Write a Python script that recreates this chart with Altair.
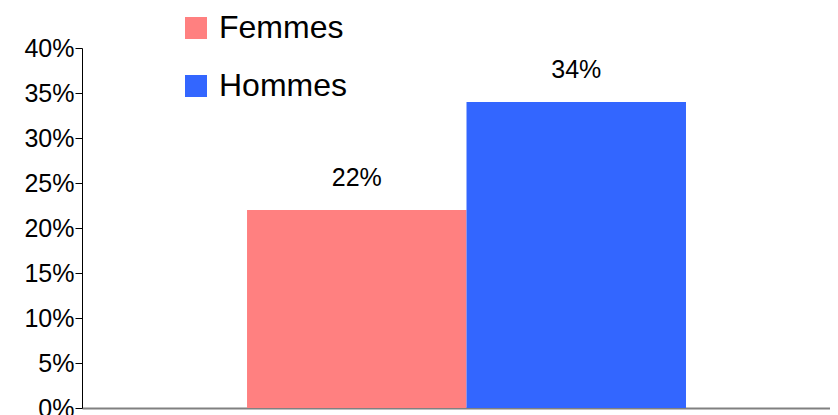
import altair as alt
import pandas as pd

categories = ["Femmes", "Hommes"]
values = [0.22, 0.34]
labels = ["22%", "34%"]
colors = ["#FF8080", "#3366FF"]

df = pd.DataFrame({"sexe": categories, "part": values, "label": labels})

FONT = "Liberation Sans, Arial, sans-serif"

x_enc = alt.X(
    "sexe:N",
    sort=categories,
    scale=alt.Scale(paddingInner=0, paddingOuter=0.704, align=0.534),
    axis=alt.Axis(labels=False, ticks=False, title=None, domainColor="#808080", domainWidth=2),
)
y_enc = alt.Y(
    "part:Q",
    scale=alt.Scale(domain=[0, 0.4], nice=False),
    axis=alt.Axis(
        format=".0%",
        values=[0, 0.05, 0.1, 0.15, 0.2, 0.25, 0.3, 0.35, 0.4],
        grid=False,
        title=None,
        labelFontSize=25,
        labelFont=FONT,
        labelColor="black",
        tickColor="black",
        tickSize=7,
        labelPadding=1,
        domainColor="black",
        domainWidth=1,
    ),
)

bars = alt.Chart(df).mark_bar(opacity=1).encode(
    x=x_enc,
    y=y_enc,
    color=alt.Color(
        "sexe:N",
        sort=categories,
        scale=alt.Scale(domain=categories, range=colors),
        legend=alt.Legend(
            title=None,
            orient="none",
            legendX=98,
            legendY=-36,
            symbolType="square",
            symbolSize=484,
            symbolStrokeWidth=0,
            symbolOpacity=1,
            labelFontSize=32,
            labelFont=FONT,
            labelColor="black",
            labelOffset=7,
            rowPadding=26,
        ),
    ),
)

text = alt.Chart(df).mark_text(
    baseline="alphabetic", dy=-24, fontSize=25, font=FONT, color="black"
).encode(
    x=alt.X("sexe:N", sort=categories),
    y=alt.Y("part:Q"),
    text="label:N",
)

chart = (
    alt.layer(bars, text)
    .properties(
        width=748,
        height=360,
        autosize=alt.AutoSizeParams(type="none"),
        padding={"left": 74, "top": 40, "right": 0, "bottom": 7},
    )
    .configure_view(stroke=None)
)

chart.save("out.html", embed_options={"renderer": "svg", "actions": False})
